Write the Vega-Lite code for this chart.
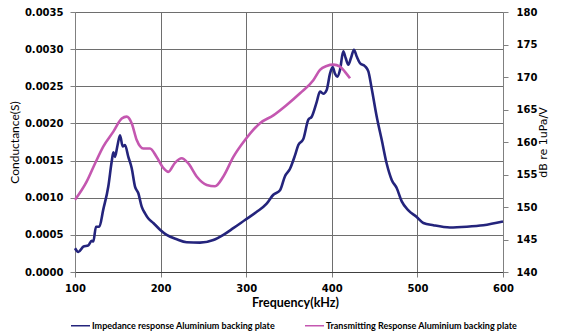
{
  "$schema": "https://vega.github.io/schema/vega-lite/v6.json",
  "width": 428,
  "height": 260,
  "autosize": {"type": "none"},
  "padding": {"left": 75, "top": 12, "right": 58, "bottom": 59},
  "background": "white",
  "config": {
    "view": {"stroke": null},
    "axis": {"labelColor": "#000", "titleColor": "#000", "domainColor": "#808080", "tickColor": "#808080", "gridColor": "#6e6e6e", "gridWidth": 1}
  },
  "datasets": {
    "cond": [
      {"f":100,"v":0.00032},{"f":103.9,"v":0.00027},{"f":109.7,"v":0.00034},{"f":115.6,"v":0.00036},{"f":119.5,"v":0.00042},{"f":121.4,"v":0.00041},{"f":124.5,"v":0.00061},{"f":128.4,"v":0.00061},{"f":133,"v":0.00084},{"f":138.9,"v":0.00115},{"f":142.8,"v":0.00148},{"f":144.8,"v":0.00161},{"f":146.7,"v":0.00155},{"f":149.4,"v":0.00169},{"f":152.6,"v":0.00184},{"f":155.7,"v":0.00169},{"f":158.4,"v":0.00171},{"f":162.3,"v":0.00155},{"f":166.2,"v":0.0014},{"f":170.1,"v":0.00115},{"f":174,"v":0.00106},{"f":177.9,"v":0.00088},{"f":181.8,"v":0.00079},{"f":185.7,"v":0.00072},{"f":191.5,"v":0.00066},{"f":199.3,"v":0.00057},{"f":207.1,"v":0.0005},{"f":218.8,"v":0.00044},{"f":230.5,"v":0.0004},{"f":246,"v":0.000395},{"f":261.6,"v":0.00043},{"f":273.3,"v":0.0005},{"f":284.9,"v":0.00059},{"f":298.6,"v":0.0007},{"f":312.3,"v":0.00081},{"f":323.9,"v":0.00092},{"f":331.7,"v":0.00104},{"f":339.5,"v":0.0011},{"f":345.3,"v":0.00129},{"f":351.2,"v":0.00139},{"f":357,"v":0.00157},{"f":360.9,"v":0.00171},{"f":366.7,"v":0.00179},{"f":372.6,"v":0.00205},{"f":376.5,"v":0.00209},{"f":382.4,"v":0.00229},{"f":386.2,"v":0.00243},{"f":390.1,"v":0.0024},{"f":394,"v":0.00245},{"f":397.9,"v":0.00267},{"f":401,"v":0.00276},{"f":403.7,"v":0.00267},{"f":406.4,"v":0.00263},{"f":409.6,"v":0.00272},{"f":413.4,"v":0.00297},{"f":416.2,"v":0.00288},{"f":419.3,"v":0.00279},{"f":422.4,"v":0.00288},{"f":425.9,"v":0.00299},{"f":429.1,"v":0.0029},{"f":433,"v":0.00281},{"f":438.8,"v":0.00277},{"f":442.7,"v":0.0027},{"f":446.6,"v":0.00247},{"f":452.5,"v":0.00209},{"f":458.3,"v":0.00178},{"f":464.1,"v":0.00146},{"f":470,"v":0.00124},{"f":475.8,"v":0.00113},{"f":481.7,"v":0.00095},{"f":489.5,"v":0.00083},{"f":499.2,"v":0.00074},{"f":507,"v":0.00066},{"f":518.7,"v":0.00063},{"f":538,"v":0.0006},{"f":557.6,"v":0.00061},{"f":577,"v":0.00063},{"f":600,"v":0.00068}
    ],
    "db": [
      {"f":100,"v":151.1},{"f":113.6,"v":153.9},{"f":123.4,"v":156.7},{"f":133,"v":159.3},{"f":144.8,"v":161.6},{"f":154.6,"v":163.6},{"f":160.4,"v":163.9},{"f":166.2,"v":162.9},{"f":172.1,"v":160.3},{"f":179.8,"v":159},{"f":187.6,"v":159},{"f":195.4,"v":157.7},{"f":203.2,"v":156},{"f":209,"v":155.4},{"f":216.8,"v":156.8},{"f":224.6,"v":157.5},{"f":232.4,"v":156.7},{"f":242.1,"v":154.7},{"f":253.9,"v":153.4},{"f":263.6,"v":153.2},{"f":273.3,"v":154.7},{"f":285,"v":157.7},{"f":298.6,"v":160.3},{"f":316.1,"v":162.9},{"f":331.7,"v":164.1},{"f":347.3,"v":165.7},{"f":362.9,"v":167.5},{"f":378.4,"v":169.5},{"f":386.2,"v":171.1},{"f":394,"v":171.7},{"f":401.8,"v":171.9},{"f":409.6,"v":171.6},{"f":415.4,"v":170.8},{"f":421.3,"v":169.8}
    ]
  },
  "encoding": {
    "x": {
      "field": "f", "type": "quantitative",
      "scale": {"domain": [100, 600], "nice": false},
      "axis": {"values": [100,200,300,400,500,600], "labelFlush": false, "title": "Frequency(kHz)", "titleFont": "Lato", "titleFontSize": 12.5, "titleFontWeight": "bold", "titlePadding": 3, "titleX": 220, "labelFont": "DejaVu Sans", "labelFontWeight": "bold", "labelFontSize": 10, "labelPadding": 6, "tickSize": 5, "domainColor": "#404040", "grid": true}
    },
    "color": {
      "field": "s", "type": "nominal",
      "scale": {"domain": ["Impedance response Aluminium backing plate", "Transmitting Response Aluminium backing plate"], "range": ["#24247c", "#c457b0"]},
      "legend": {"title": null, "orient": "none", "legendX": -5, "legendY": 303, "direction": "horizontal", "symbolType": "stroke", "symbolSize": 361, "symbolStrokeWidth": 1.5, "labelFont": "Lato", "labelFontSize": 9, "labelFontWeight": "bold", "labelColor": "#000", "labelLimit": 400, "labelOffset": 1, "columnPadding": 27}
    }
  },
  "layer": [
    {
      "data": {"name": "cond"},
      "transform": [{"calculate": "'Impedance response Aluminium backing plate'", "as": "s"}],
      "mark": {"type": "line", "strokeWidth": 2.6, "interpolate": "monotone"},
      "encoding": {
        "y": {
          "field": "v", "type": "quantitative",
          "scale": {"domain": [0, 0.0035], "nice": false},
          "axis": {"values": [0,0.0005,0.001,0.0015,0.002,0.0025,0.003,0.0035], "format": ".4f", "title": "Conductance(S)", "titleFont": "Lato", "titleFontSize": 12, "titleFontWeight": "normal", "titlePadding": 3, "labelFont": "DejaVu Sans", "labelFontWeight": "bold", "labelFontSize": 10, "labelPadding": 7, "tickSize": 5, "grid": true}
        }
      }
    },
    {
      "data": {"name": "db"},
      "transform": [{"calculate": "'Transmitting Response Aluminium backing plate'", "as": "s"}],
      "mark": {"type": "line", "strokeWidth": 2.6, "interpolate": "monotone"},
      "encoding": {
        "y": {
          "field": "v", "type": "quantitative",
          "scale": {"domain": [140, 180], "nice": false},
          "axis": {"orient": "right", "values": [140,145,150,155,160,165,170,175,180], "title": "dB re 1uPa/V", "titleAngle": 270, "titleFont": "DejaVu Sans", "titleFontSize": 11, "titleFontWeight": "normal", "titlePadding": 12, "labelFont": "DejaVu Sans", "labelFontWeight": "bold", "labelFontSize": 10, "labelPadding": 8, "tickSize": 5, "grid": false}
        }
      }
    }
  ],
  "resolve": {"scale": {"y": "independent"}}
}
